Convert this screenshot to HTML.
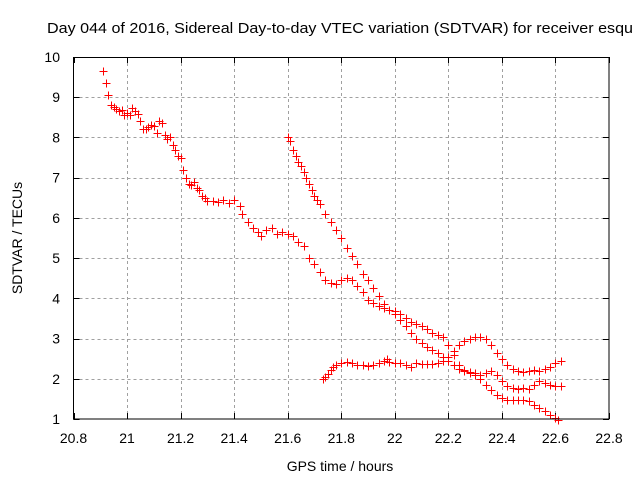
<!DOCTYPE html>
<html><head><meta charset="utf-8"><style>
html,body{margin:0;padding:0;background:#fff;}
svg{display:block;font-family:"Liberation Sans",Arial,sans-serif;}
</style></head><body>
<svg id="chart" width="640" height="480" viewBox="0 0 640 480">
<text x="47" y="33" font-size="15" fill="#000" textLength="586" lengthAdjust="spacingAndGlyphs">Day 044 of 2016, Sidereal Day-to-day VTEC variation (SDTVAR) for receiver esqu</text>
<g id="grid" shape-rendering="crispEdges"></g>
<g id="ticks"></g>
<g id="marks" shape-rendering="crispEdges"></g>
<rect x="73.5" y="57.5" width="535.5" height="361.5" fill="none" stroke="#000" stroke-width="1" shape-rendering="crispEdges"/>
<text x="340" y="471" font-size="14" text-anchor="middle">GPS time / hours</text>
<text transform="translate(22,238) rotate(-90)" font-size="14" text-anchor="middle">SDTVAR / TECUs</text>
</svg>
<script>
const xTicks=[20.8,21,21.2,21.4,21.6,21.8,22,22.2,22.4,22.6,22.8];
const xTickLabels=["20.8","21","21.2","21.4","21.6","21.8","22","22.2","22.4","22.6","22.8"];
const yTicks=[1,2,3,4,5,6,7,8,9,10];
const yTickLabels=["1","2","3","4","5","6","7","8","9","10"];
const seriesAX=[20.91,20.92,20.93,20.94,20.95,20.96,20.97,20.98,20.99,21.0,21.01,21.02,21.03,21.04,21.05,21.06,21.07,21.08,21.09,21.1,21.11,21.12,21.13,21.14,21.15,21.16,21.17,21.18,21.19,21.2,21.21,21.22,21.23,21.24,21.25,21.26,21.27,21.28,21.29,21.3,21.32,21.34,21.36,21.38,21.4,21.42,21.43,21.45,21.47,21.49,21.5,21.52,21.54,21.56,21.58,21.6,21.62,21.64,21.66,21.68,21.7,21.72,21.74,21.76,21.78,21.8,21.82,21.84,21.86,21.88,21.9,21.92,21.94,21.96,21.98,22.0,22.02,22.04,22.06,22.08,22.1,22.12,22.14,22.16,22.18,22.2,22.22,22.24,22.26,22.28,22.3,22.32,22.34,22.36,22.38,22.4,22.42,22.44,22.46,22.48,22.5,22.52,22.54,22.56,22.58,22.6,22.62];
const seriesAY=[9.65,9.35,9.05,8.8,8.75,8.7,8.65,8.68,8.55,8.6,8.55,8.72,8.65,8.58,8.4,8.22,8.2,8.25,8.3,8.28,8.12,8.4,8.35,8.05,7.95,8.0,7.8,7.7,7.55,7.48,7.2,7.0,6.85,6.82,6.9,6.75,6.7,6.55,6.5,6.42,6.42,6.4,6.45,6.38,6.45,6.3,6.1,5.9,5.75,5.65,5.55,5.7,5.75,5.6,5.65,5.6,5.55,5.4,5.3,5.0,4.85,4.65,4.45,4.38,4.35,4.45,4.5,4.45,4.3,4.15,3.95,3.88,3.8,3.75,3.7,3.68,3.6,3.5,3.4,3.35,3.3,3.25,3.15,3.1,3.05,2.85,2.6,2.35,2.22,2.15,2.1,2.1,2.15,2.2,2.1,1.95,1.82,1.78,1.75,1.78,1.75,1.85,1.95,1.9,1.85,1.82,1.82];
const seriesBX=[21.6,21.61,21.62,21.63,21.64,21.65,21.66,21.67,21.68,21.69,21.7,21.71,21.72,21.74,21.76,21.78,21.8,21.82,21.84,21.86,21.88,21.9,21.92,21.94,21.96,21.98,22.0,22.02,22.04,22.06,22.08,22.1,22.12,22.14,22.16,22.18,22.2,22.22,22.24,22.26,22.28,22.3,22.32,22.34,22.36,22.38,22.4,22.42,22.44,22.46,22.48,22.5,22.52,22.54,22.56,22.58,22.6,22.61];
const seriesBY=[8.02,7.9,7.7,7.55,7.4,7.3,7.15,7.0,6.85,6.7,6.55,6.45,6.35,6.1,5.9,5.7,5.5,5.25,5.05,4.85,4.6,4.45,4.25,4.05,3.85,3.7,3.6,3.45,3.3,3.15,3.0,2.9,2.8,2.72,2.65,2.55,2.45,2.35,2.25,2.2,2.18,2.15,2.0,1.85,1.72,1.6,1.52,1.48,1.48,1.48,1.48,1.45,1.35,1.28,1.2,1.1,1.02,0.98];
const seriesCX=[21.73,21.74,21.75,21.76,21.77,21.78,21.8,21.82,21.84,21.86,21.88,21.9,21.92,21.94,21.96,21.97,21.98,22.0,22.02,22.04,22.06,22.08,22.1,22.12,22.14,22.16,22.18,22.2,22.22,22.24,22.26,22.28,22.3,22.32,22.34,22.36,22.38,22.4,22.42,22.44,22.46,22.48,22.5,22.52,22.54,22.56,22.58,22.6,22.62];
const seriesCY=[2.0,2.05,2.12,2.22,2.3,2.35,2.4,2.42,2.38,2.35,2.35,2.33,2.35,2.4,2.45,2.48,2.42,2.38,2.38,2.35,2.3,2.38,2.37,2.36,2.37,2.38,2.45,2.55,2.7,2.85,2.95,3.0,3.05,3.05,2.98,2.85,2.65,2.5,2.35,2.25,2.2,2.18,2.2,2.22,2.2,2.25,2.3,2.38,2.45];

const L=73.5,R=609,T=57,B=419,X0=20.8,X1=22.8,Y0=1,Y1=10;
const sx=v=>L+(v-X0)/(X1-X0)*(R-L);
const sy=v=>B-(v-Y0)/(Y1-Y0)*(B-T);
const NS="http://www.w3.org/2000/svg";
function mk(tag,attrs,parent){const e=document.createElementNS(NS,tag);for(const k in attrs)e.setAttribute(k,attrs[k]);parent.appendChild(e);return e;}
const grid=document.getElementById('grid'),ticks=document.getElementById('ticks'),marks=document.getElementById('marks');
xTicks.forEach((v,i)=>{
  const x=Math.round(sx(v))+0.5;
  if(i>0&&i<xTicks.length-1){const g=mk('line',{x1:x,x2:x,y1:T,y2:B,stroke:'#a0a0a0','stroke-dasharray':'3,3'},grid);
  
  }
  const t1=mk('line',{x1:x,x2:x,y1:B,y2:B-6,stroke:'#000','shape-rendering':'crispEdges'},ticks);
  
  
  const t2=mk('line',{x1:x,x2:x,y1:T,y2:T+6,stroke:'#000','shape-rendering':'crispEdges'},ticks);
  
  
  const tx=mk('text',{x:sx(v),y:443,'font-size':14,'text-anchor':'middle'},ticks);
  tx.textContent=xTickLabels[i];
  
  
});
yTicks.forEach((v,i)=>{
  const y=Math.round(sy(v))+0.5;
  if(i>0&&i<yTicks.length-1){const g=mk('line',{x1:L,x2:R,y1:y,y2:y,stroke:'#a0a0a0','stroke-dasharray':'3,3'},grid);
  
  }
  const t1=mk('line',{x1:L,x2:L+6,y1:y,y2:y,stroke:'#000','shape-rendering':'crispEdges'},ticks);
  
  
  const t2=mk('line',{x1:R,x2:R-6,y1:y,y2:y,stroke:'#000','shape-rendering':'crispEdges'},ticks);
  
  
  const ty=mk('text',{x:60,y:sy(v)+5,'font-size':14,'text-anchor':'end'},ticks);
  ty.textContent=yTickLabels[i];
  
  
});
function drawSeries(xs,ys,name){
  const g=mk('g',{stroke:'#ff0000','stroke-width':1,fill:'none'},marks);
  
  
  let d='';
  xs.forEach((xv,i)=>{const x=Math.round(sx(xv))+0.5,y=Math.round(sy(ys[i]))+0.5;d+=`M${x-4},${y}h8M${x},${y-4}v8`;});
  const p=mk('path',{d:d},g);
  
  
}
drawSeries(seriesAX,seriesAY,'series-a');
drawSeries(seriesBX,seriesBY,'series-b');
drawSeries(seriesCX,seriesCY,'series-c');
</script>
</body></html>
